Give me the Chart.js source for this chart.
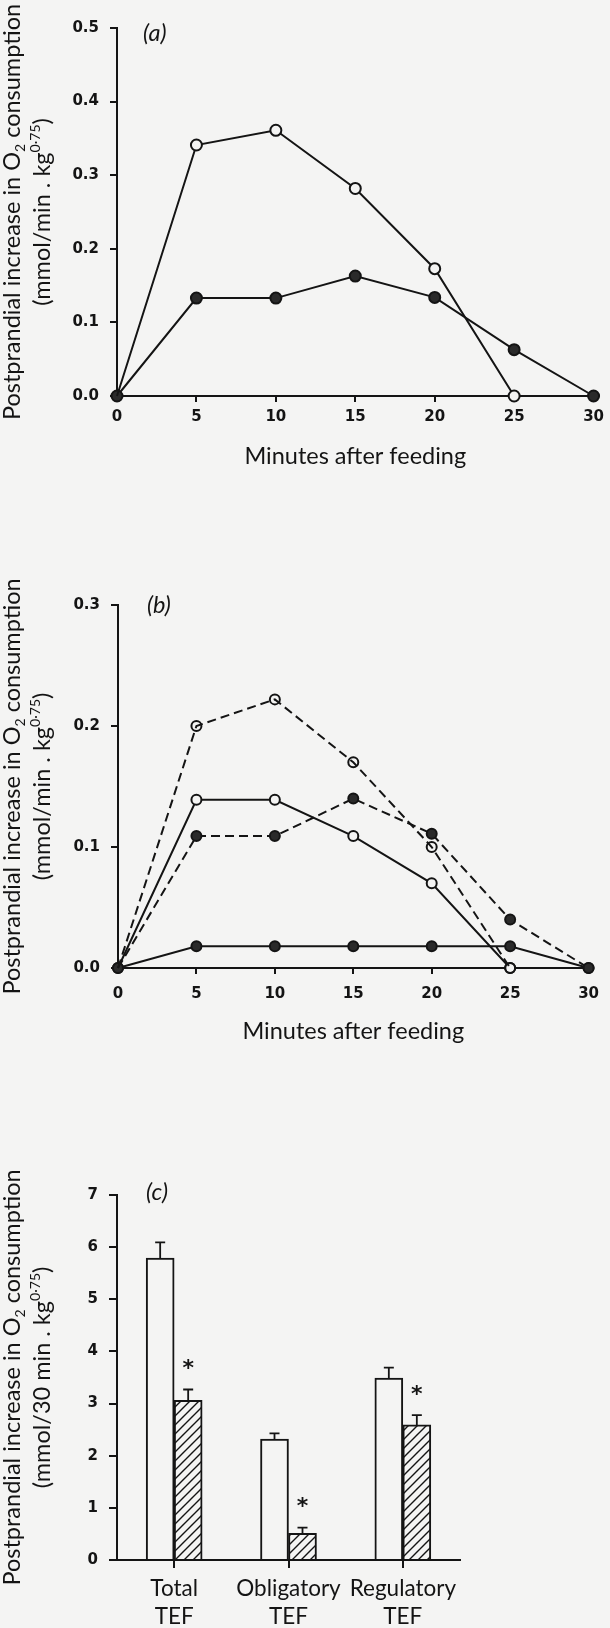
<!DOCTYPE html>
<html>
<head>
<meta charset="utf-8">
<script src="https://cdn.jsdelivr.net/npm/chart.js@4.4.1/dist/chart.umd.min.js"></script>
<style>
  html, body { margin: 0; padding: 0; background: #f4f4f3; }
  body { position: relative; width: 610px; height: 1628px; overflow: hidden; }
  canvas { position: absolute; left: 0; }
</style>
</head>
<body>
<canvas id="panelA" width="610" height="480" style="top:0px"></canvas>
<canvas id="panelB" width="610" height="500" style="top:560px"></canvas>
<canvas id="panelC" width="610" height="478" style="top:1150px"></canvas>
<script>
// time axis, minutes after feeding
const minutes = [0, 5, 10, 15, 20, 25, 30]

// panel (a)
const aTicks = [0, 0.1, 0.2, 0.3, 0.4, 0.5]
const aOpen = [0, 0.341, 0.361, 0.282, 0.173, 0, null]
const aFilled = [0, 0.133, 0.133, 0.163, 0.134, 0.063, 0]

// panel (b)
const bTicks = [0, 0.1, 0.2, 0.3]
const bDashedOpen = [0, 0.200, 0.222, 0.170, 0.100, 0, null]
const bSolidOpen = [0, 0.139, 0.139, 0.109, 0.070, 0, null]
const bDashedFilled = [0, 0.109, 0.109, 0.140, 0.111, 0.040, 0]
const bSolidFilled = [0, 0.018, 0.018, 0.018, 0.018, 0.018, 0]

// panel (c)
const cTicks = [0, 1, 2, 3, 4, 5, 6, 7]
const tefGroups = [['Total', 'TEF'], ['Obligatory', 'TEF'], ['Regulatory', 'TEF']]
const controlTef = [5.79, 2.32, 3.49]
const controlErr = [0.30, 0.11, 0.20]
const treatedTef = [3.06, 0.51, 2.59]
const treatedErr = [0.21, 0.11, 0.19]
const treatedSig = [true, true, true]

const ink = '#141414'
const paper = '#f4f4f3'
const textFamily = 'Lato, "Open Sans", sans-serif'
const textSize = 23.5
const tickFont = { family: '"DejaVu Sans", sans-serif', size: 15, weight: 'bold' }

// y titles, split into runs so O2 and kg0.75 get their small figures
const titleLine1 = [{ t: 'Postprandial increase in O' }, { t: '2', sub: true }, { t: ' consumption' }]
const titleLine2min = [{ t: '(mmol/min . kg' }, { t: '0·75', sup: true }, { t: ')' }]
const titleLine2half = [{ t: '(mmol/30 min . kg' }, { t: '0·75', sup: true }, { t: ')' }]

function runFont(seg) {
  return (seg.sub || seg.sup) ? `14px ${textFamily}` : `${textSize}px ${textFamily}`
}

function drawRuns(ctx, segs, baseline) {
  const widths = segs.map(s => { ctx.font = runFont(s); return ctx.measureText(s.t).width })
  let x = -widths.reduce((a, b) => a + b, 0) / 2
  segs.forEach((s, i) => {
    ctx.font = runFont(s)
    const shift = s.sub ? 5 : (s.sup ? -10 : 0)
    ctx.fillText(s.t, x, baseline + shift)
    x += widths[i]
  })
}

const sideTitle = {
  id: 'sideTitle',
  afterDraw(chart, args, opts) {
    const { ctx, chartArea } = chart
    ctx.save()
    ctx.translate(0, (chartArea.top + chartArea.bottom) / 2)
    ctx.rotate(-Math.PI / 2)
    ctx.fillStyle = ink
    ctx.textAlign = 'left'
    ctx.textBaseline = 'alphabetic'
    opts.lines.forEach((segs, i) => drawRuns(ctx, segs, opts.baselines[i]))
    ctx.restore()
  }
}

const panelTag = {
  id: 'panelTag',
  afterDraw(chart, args, opts) {
    const { ctx, chartArea } = chart
    ctx.save()
    ctx.font = `italic ${textSize}px ${textFamily}`
    ctx.fillStyle = ink
    ctx.textBaseline = 'middle'
    ctx.fillText(opts.text, chartArea.left + opts.dx, chartArea.top + opts.dy)
    ctx.restore()
  }
}

// upward error whiskers and significance stars on the bar panel
const errorBars = {
  id: 'errorBars',
  afterDatasetsDraw(chart) {
    const { ctx, chartArea } = chart
    const yScale = chart.scales.y
    ctx.save()
    ctx.strokeStyle = ink
    ctx.fillStyle = ink
    ctx.lineWidth = 1.8
    chart.data.datasets.forEach((ds, di) => {
      chart.getDatasetMeta(di).data.forEach((bar, i) => {
        const top = yScale.getPixelForValue(ds.data[i] + ds.err[i])
        ctx.beginPath()
        ctx.moveTo(bar.x, bar.y)
        ctx.lineTo(bar.x, top)
        ctx.moveTo(bar.x - 5, top)
        ctx.lineTo(bar.x + 5, top)
        ctx.stroke()
        if (ds.sig && ds.sig[i]) {
          ctx.font = 'bold 22px "DejaVu Sans", sans-serif'
          ctx.textAlign = 'center'
          ctx.textBaseline = 'middle'
          ctx.fillText('*', bar.x, top - 20)
        }
      })
    })
    // base line runs a little past the value axis
    ctx.lineWidth = 2
    ctx.beginPath()
    ctx.moveTo(chartArea.left - 8, chartArea.bottom)
    ctx.lineTo(chartArea.left, chartArea.bottom)
    ctx.stroke()
    ctx.restore()
  }
}

function axisStyle(tickLength) {
  return {
    border: { color: ink, width: 2 },
    grid: { drawOnChartArea: false, color: ink, lineWidth: 2, tickLength: tickLength }
  }
}

function series(values, opts) {
  return {
    data: minutes.map((m, i) => ({ x: m, y: values[i] })),
    borderColor: ink,
    borderWidth: 2,
    borderDash: opts.dash || [],
    pointRadius: ctx => (opts.hideFirst && ctx.dataIndex === 0) ? 0 : opts.r,
    pointBorderWidth: 2,
    pointBorderColor: ink,
    pointBackgroundColor: opts.fill,
    tension: 0,
    clip: false
  }
}

function lineOptions(cfg) {
  return {
    responsive: false,
    animation: false,
    layout: { padding: { left: 0, right: cfg.right, top: cfg.top, bottom: 0 } },
    plugins: {
      legend: { display: false },
      tooltip: { enabled: false },
      panelTag: cfg.tag,
      sideTitle: { lines: [titleLine1, titleLine2min], baselines: [20, 50] }
    },
    scales: {
      x: {
        type: 'linear', min: 0, max: 30,
        afterBuildTicks: s => { s.ticks = minutes.map(v => ({ value: v })) },
        afterFit: s => { s.height = cfg.xHeight },
        ...axisStyle(6),
        ticks: { color: ink, font: tickFont, padding: cfg.xPad, maxRotation: 0, autoSkip: false },
        title: {
          display: true, text: 'Minutes after feeding', color: ink,
          font: { family: textFamily, size: textSize, lineHeight: 1.2 },
          padding: { top: 0, bottom: cfg.xTitlePad }
        }
      },
      y: {
        min: 0, max: cfg.yTicks[cfg.yTicks.length - 1],
        afterBuildTicks: s => { s.ticks = cfg.yTicks.map(v => ({ value: v })) },
        afterFit: s => { s.width = cfg.yWidth },
        ...axisStyle(7),
        ticks: { color: ink, font: tickFont, padding: 11, callback: v => v.toFixed(1) }
      }
    }
  }
}

// (a)
new Chart(document.getElementById('panelA'), {
  type: 'line',
  data: {
    datasets: [
      series(aOpen, { r: 5.5, fill: paper, hideFirst: true }),
      series(aFilled, { r: 5.5, fill: '#2a2a2a' })
    ]
  },
  options: lineOptions({
    right: 13, top: 28, xHeight: 84, xPad: 6, xTitlePad: 9, yWidth: 117, yTicks: aTicks,
    tag: { text: '(a)', dx: 26, dy: 5 }
  }),
  plugins: [sideTitle, panelTag]
})

// (b)
new Chart(document.getElementById('panelB'), {
  type: 'line',
  data: {
    datasets: [
      series(bDashedOpen, { r: 5, fill: 'rgba(0,0,0,0)', dash: [9, 5], hideFirst: true }),
      series(bSolidOpen, { r: 5, fill: paper, hideFirst: true }),
      series(bDashedFilled, { r: 5, fill: '#2a2a2a', dash: [9, 5] }),
      series(bSolidFilled, { r: 5, fill: '#2a2a2a' })
    ]
  },
  options: lineOptions({
    right: 11, top: 45, xHeight: 92, xPad: 11, xTitlePad: 14, yWidth: 118, yTicks: bTicks,
    tag: { text: '(b)', dx: 29, dy: 0 }
  }),
  plugins: [sideTitle, panelTag]
})

// hatched fill for the treated bars
const tile = document.createElement('canvas')
tile.width = tile.height = 9
const tc = tile.getContext('2d')
tc.fillStyle = paper
tc.fillRect(0, 0, 9, 9)
tc.strokeStyle = ink
tc.lineWidth = 1.4
tc.beginPath()
tc.moveTo(0, 9); tc.lineTo(9, 0)
tc.moveTo(-2, 2); tc.lineTo(2, -2)
tc.moveTo(7, 11); tc.lineTo(11, 7)
tc.stroke()
const hatch = tc.createPattern(tile, 'repeat')

// (c)
new Chart(document.getElementById('panelC'), {
  type: 'bar',
  data: {
    labels: tefGroups,
    datasets: [
      { data: controlTef, err: controlErr, backgroundColor: paper, borderColor: ink, borderWidth: 2, borderSkipped: 'bottom', barThickness: 28 },
      { data: treatedTef, err: treatedErr, sig: treatedSig, backgroundColor: hatch, borderColor: ink, borderWidth: 2, borderSkipped: 'bottom', barThickness: 28 }
    ]
  },
  options: {
    responsive: false,
    animation: false,
    layout: { padding: { left: 0, right: 150, top: 45, bottom: 0 } },
    plugins: {
      legend: { display: false },
      tooltip: { enabled: false },
      panelTag: { text: '(c)', dx: 29, dy: -3 },
      sideTitle: { lines: [titleLine1, titleLine2half], baselines: [20, 50] }
    },
    scales: {
      x: {
        afterFit: s => { s.height = 68 },
        border: { color: ink, width: 2 },
        grid: { offset: false, drawOnChartArea: false, color: ink, lineWidth: 2, tickLength: 8 },
        ticks: { color: ink, font: { family: textFamily, size: 22.5, lineHeight: 1.25 }, padding: 7, maxRotation: 0, autoSkip: false }
      },
      y: {
        min: 0, max: 7,
        afterBuildTicks: s => { s.ticks = cTicks.map(v => ({ value: v })) },
        afterFit: s => { s.width = 117 },
        ...axisStyle(8),
        ticks: { color: ink, font: tickFont, padding: 11 }
      }
    }
  },
  plugins: [sideTitle, panelTag, errorBars]
})
</script>
</body>
</html>
